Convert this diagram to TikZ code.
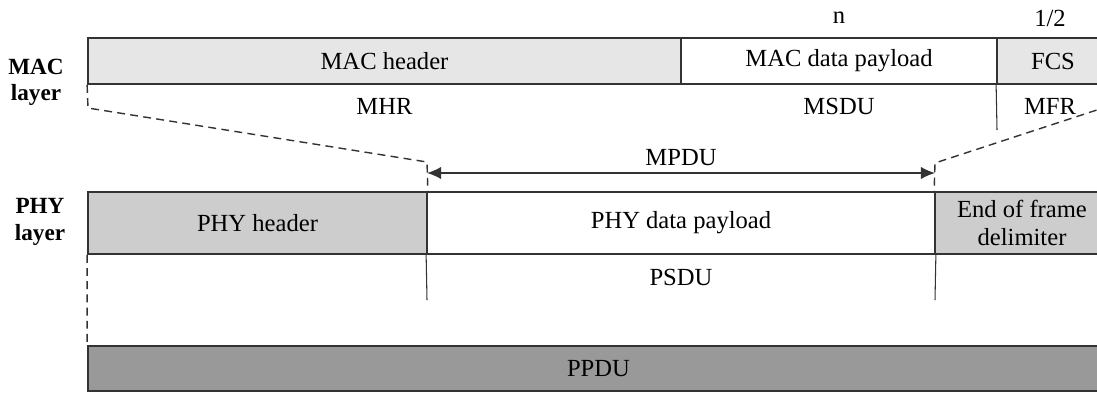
\documentclass[tikz,border=0pt]{standalone}
\usepackage{fontspec}
\setmainfont{Liberation Serif}
\usepackage{tikz}
\usetikzlibrary{arrows.meta, positioning}
\definecolor{lightfield}{HTML}{E6E6E6}
\definecolor{midfield}{HTML}{CDCDCD}
\definecolor{darkfield}{HTML}{999999}
\definecolor{borderline}{HTML}{333333}
\tikzset{
	fieldnode/.style={
			shape=rectangle,
			draw=borderline,
			line width=1pt,
			fill=white,
			inner sep=0pt,
			align=center,
			font=\fontsize{14}{15.5}\selectfont
		},
	lightnode/.style={
			fieldnode,
			fill=lightfield
		},
	midnode/.style={
			fieldnode,
			fill=midfield
		},
	darknode/.style={
			fieldnode,
			fill=darkfield
		}
}
\tikzset{
	textnode/.style={inner sep=0pt, font=\fontsize{14}{15.5}\selectfont},
	layernode/.style={inner sep=0pt, align=center, font=\fontsize{13.2}{15}\selectfont\bfseries},
	divider/.style={draw=borderline, line width=0.6pt},
	dashline/.style={draw=borderline, line width=0.8pt, dash pattern=on 4.5pt off 3pt}
}

\begin{document}
\begin{tikzpicture}

  \clip (0,0) rectangle (21.94,-7.84);

  \node[layernode] (lmac) at (0.72,-1.64) {MAC\\layer};
  \node[layernode] (lphy) at (0.80,-4.44) {PHY\\layer};

  \node[lightnode, minimum width=11.86cm, minimum height=0.92cm] (mac1) at (7.69,-1.22) {MAC header};
  \node[fieldnode, minimum width=6.32cm, minimum height=0.92cm] (mac2) at (16.78,-1.22) {MAC data payload};
  \node[lightnode, minimum width=2.24cm, minimum height=0.92cm] (mac3) at (21.06,-1.22) {FCS};

  \node[textnode] (n2) at (16.78,-0.36) {n};
  \node[textnode] (n3) at (21.00,-0.36) {1/2};

  \node[textnode] (s1) at (7.69,-2.12) {MHR};
  \node[textnode] (s2) at (16.78,-2.12) {MSDU};
  \node[textnode] (s3) at (21.00,-2.12) {MFR};

  \node[midnode, minimum width=6.78cm, minimum height=1.24cm] (phy1) at (5.15,-4.46) {PHY header};
  \node[fieldnode, minimum width=10.16cm, minimum height=1.24cm] (phy2) at (13.62,-4.46) {PHY data payload};
  \node[midnode, minimum width=3.48cm, minimum height=1.24cm] (phy3) at (20.44,-4.46) {End of frame\\delimiter};

  \node[textnode] (psdu) at (13.62,-5.54) {PSDU};
  \node[darknode, minimum width=20.42cm, minimum height=0.90cm] (ppdu) at (11.97,-7.37) {PPDU};

  \node[textnode] (mpdu) at (13.62,-3.16) {MPDU};

  \coordinate (c1) at (1.76,-2.16);
  \coordinate (c2) at (8.54,-3.24);
  \coordinate (c3) at (22.18,-2.12);
  \coordinate (c4) at (18.70,-3.26);
  \coordinate (c5) at (19.94,-2.60);
  \coordinate (c6) at (8.54,-6.00);
  \coordinate (c7) at (18.70,-6.00);
  \coordinate (a1) at (8.54,-3.46);
  \coordinate (a2) at (18.70,-3.46);

  \draw[dashline] (mac1.south west) -- (c1) -- (c2) -- (phy1.north east);
  \draw[dashline] (c3) -- (c4) -- (phy3.north west);
  \draw[dashline] (phy1.south west) -- (ppdu.north west);

  \draw[divider] (mac3.south west) -- (c5);
  \draw[divider] (phy2.south west) -- (c6);
  \draw[divider] (phy2.south east) -- (c7);

  \draw[divider, line width=0.8pt, {Latex[length=8pt,width=7pt]}-{Latex[length=8pt,width=7pt]}] (a1) -- (a2);

\end{tikzpicture}
\end{document}
